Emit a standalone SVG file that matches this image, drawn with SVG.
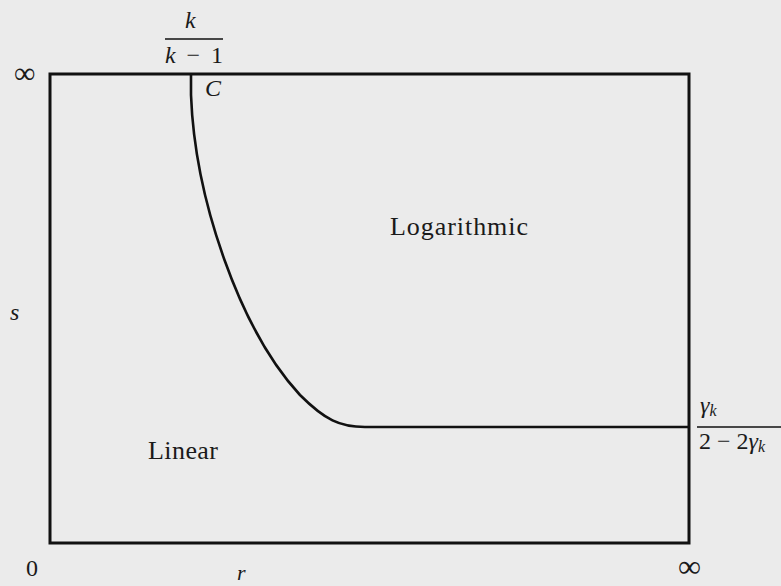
<svg xmlns="http://www.w3.org/2000/svg" width="781" height="586" viewBox="0 0 781 586">
<style>
.t{font-family:"Liberation Serif","DejaVu Serif",serif;fill:#1a1a1a}
.i{font-style:italic}
.ln{stroke:#111;fill:none}
</style>
<rect width="781" height="586" fill="#ebebeb"/>
<g id="frame">
<rect x="50" y="74" width="639" height="469" class="ln" stroke-width="3"/>
</g>
<g id="connectors">
<path id="curveC" class="ln" stroke-width="2.6" d="M191,74 L191,95 C195,200 240,330 300,395 C325,420 340,427 365,427 L689,427"/>
</g>
<g id="labels">
<text class="t i" x="185" y="28" font-size="24">k</text>
<line x1="165" y1="39" x2="223" y2="39" stroke="#111" stroke-width="1.5"/>
<text class="t" x="165" y="63" font-size="24" textLength="58"><tspan class="i">k</tspan> − 1</text>
<text class="t" x="14" y="83" font-size="30">∞</text>
<text class="t i" x="205" y="96" font-size="24">C</text>
<text class="t" x="390" y="235" font-size="26" textLength="138">Logarithmic</text>
<text class="t" x="148" y="459" font-size="26" textLength="70">Linear</text>
<text class="t i" x="10" y="320" font-size="24">s</text>
<text class="t i" x="700" y="413" font-size="24">γ<tspan font-size="16" dy="3">k</tspan></text>
<line x1="697" y1="427" x2="781" y2="427" stroke="#111" stroke-width="1.5"/>
<text class="t" x="699" y="449" font-size="24">2 − 2<tspan class="i">γ</tspan><tspan class="i" font-size="16" dy="3">k</tspan></text>
<text class="t" x="26" y="576" font-size="24">0</text>
<text class="t" x="678" y="577" font-size="32">∞</text>
<text class="t i" x="237" y="580" font-size="22">r</text>
</g>
</svg>
